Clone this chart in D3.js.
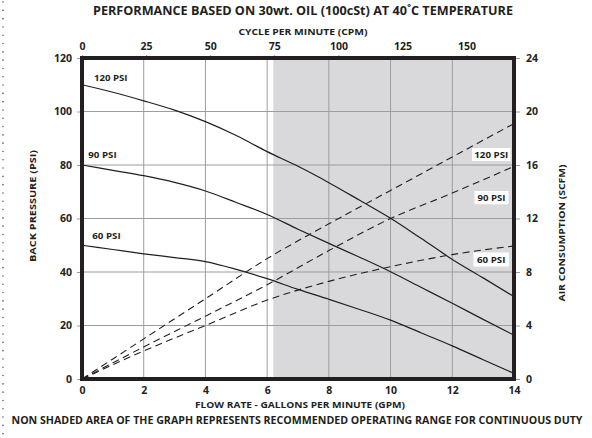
<!DOCTYPE html>
<html><head><meta charset="utf-8">
<script src="https://cdn.jsdelivr.net/npm/d3@7"></script>
<style>
html,body{margin:0;padding:0;background:#fff;}
svg{display:block;}
text{font-family:"Open Sans","DejaVu Sans",sans-serif;font-weight:700;fill:#231f20;}
</style></head>
<body>
<script>
// ---------- data ----------
const gpm = [0,1,2,3,4,5,6,7,8,9,10,11,12,13,14];
const psi120 = [110,107.2,104,100.5,96.2,91,85,79.5,73.4,66.8,60.1,52.5,44.7,37.8,30.8];
const psi90  = [80,78,76,73.5,70.3,66,61.5,56,50.7,45.5,40.1,34.2,28.3,22.3,16.4];
const psi60  = [50,48.4,46.8,45.4,43.9,41,37.5,33.5,29.8,26,22,17.2,12.4,7.2,2.1];
const gpmAir = [0,2,4,6,8,10,12,14];
const scfm120 = [0,3.0,6.0,9.0,11.6,14.1,16.6,19.1];
const scfm90  = [0,2.4,4.7,7.05,9.6,12.0,13.9,15.9];
const scfm60  = [0,2.1,4.0,5.9,7.3,8.4,9.3,9.95];
const seriesNames = ["120 PSI","90 PSI","60 PSI"];
const xTicks = [0,2,4,6,8,10,12,14];
const yTicks = [0,20,40,60,80,100,120];
const y2Ticks = [0,4,8,12,16,20,24];
const cpmTicks = [0,25,50,75,100,125,150];
const shadeStartCpm = 75;
const title = "PERFORMANCE BASED ON 30wt. OIL (100cSt) AT 40˚C TEMPERATURE";
const topTitle = "CYCLE PER MINUTE (CPM)";
const xTitle = "FLOW RATE - GALLONS PER MINUTE (GPM)";
const yTitle = "BACK PRESSURE  (PSI)";
const y2Title = "AIR CONSUMPTION (SCFM)";
const footer = "NON SHADED AREA OF THE GRAPH REPRESENTS RECOMMENDED OPERATING RANGE FOR CONTINUOUS DUTY";

// ---------- layout ----------
const W = 592, H = 438;
const L = 82, R = 514, T = 58, B = 379;
const svg = d3.select("body").append("svg").attr("width", W).attr("height", H);

const x = d3.scaleLinear().domain([0,14]).range([L,R]);
const xTop = d3.scaleLinear().domain([0,168.5]).range([L,R]);
const y = d3.scaleLinear().domain([0,120]).range([B,T]);
const y2 = d3.scaleLinear().domain([0,24]).range([B,T]);

// left dotted border
svg.append("line").attr("x1",3).attr("x2",3).attr("y1",2).attr("y2",H)
  .attr("stroke","#555").attr("stroke-width",1.5).attr("stroke-linecap","round")
  .attr("stroke-dasharray","0.1 8.2");

// shaded region
svg.append("rect").attr("x", xTop(shadeStartCpm)-1).attr("y", T)
  .attr("width", R - xTop(shadeStartCpm)+1).attr("height", B - T).attr("fill","#d9d8da");

// gridlines
const grid = svg.append("g").attr("stroke","#9d9d9d").attr("stroke-width",1);
xTicks.slice(1,-1).forEach(v => grid.append("line").attr("x1",x(v)).attr("x2",x(v)).attr("y1",T).attr("y2",B));
yTicks.slice(1,-1).forEach(v => grid.append("line").attr("x1",L).attr("x2",R).attr("y1",y(v)).attr("y2",y(v)));

// axes (ticks + labels)
const axB = svg.append("g").attr("transform",`translate(0,${B})`)
  .call(d3.axisBottom(x).tickValues(xTicks).tickSize(0).tickPadding(8));
const axL = svg.append("g").attr("transform",`translate(${L},0)`)
  .call(d3.axisLeft(y).tickValues(yTicks).tickSize(5).tickPadding(5));
const axR = svg.append("g").attr("transform",`translate(${R},0)`)
  .call(d3.axisRight(y2).tickValues(y2Ticks).tickSize(6).tickPadding(6));
const axT = svg.append("g").attr("transform",`translate(0,${T})`)
  .call(d3.axisTop(xTop).tickValues(cpmTicks).tickSize(3).tickPadding(5));
[axB,axL,axR,axT].forEach(a=>{
  a.select(".domain").remove();
  a.selectAll(".tick line").attr("stroke","#9d9d9d");
  a.selectAll("text").attr("font-size",10.5).attr("font-family",'"Open Sans",sans-serif')
   .attr("font-weight",700).attr("fill","#231f20");
});

// curves
const solid = d3.line().x((d,i)=>x(gpm[i])).y(d=>y(d)).curve(d3.curveMonotoneX);
const dashed = d3.line().x((d,i)=>x(gpmAir[i])).y(d=>y2(d)).curve(d3.curveMonotoneX);
[psi120,psi90,psi60].forEach(s=>svg.append("path").attr("d",solid(s))
  .attr("fill","none").attr("stroke","#231f20").attr("stroke-width",1.2));
[scfm120,scfm90,scfm60].forEach(s=>svg.append("path").attr("d",dashed(s))
  .attr("fill","none").attr("stroke","#231f20").attr("stroke-width",1.1)
  .attr("stroke-dasharray","7,4.5"));

// left labels
const leftLbl = [[94,81,33.5],[88.3,158,28.4],[92.3,239,28.4]];
seriesNames.forEach((n,i)=>svg.append("text").attr("x",leftLbl[i][0]).attr("y",leftLbl[i][1])
  .attr("font-size",9).attr("textLength",leftLbl[i][2]).attr("lengthAdjust","spacingAndGlyphs").text(n));
// right labels with white boxes
const rightBox = [[472,148,38.5,13,34],[474.5,191,34,13.3,28],[473.5,252.5,35.5,14,28.5]];
seriesNames.forEach((n,i)=>{
  const b = rightBox[i];
  svg.append("rect").attr("x",b[0]).attr("y",b[1]).attr("width",b[2]).attr("height",b[3]).attr("fill","#fff");
  svg.append("text").attr("x",b[0]+b[2]/2).attr("y",b[1]+b[3]/2+3.3).attr("text-anchor","middle")
    .attr("font-size",9).attr("textLength",b[4]).attr("lengthAdjust","spacingAndGlyphs").text(n);
});

// plot border
svg.append("rect").attr("x",L).attr("y",T).attr("width",R-L).attr("height",B-T)
  .attr("fill","none").attr("stroke","#231f20").attr("stroke-width",4);

// titles
svg.append("text").attr("x",303).attr("y",15).attr("text-anchor","middle").attr("font-size",11.5)
  .attr("textLength",420).attr("lengthAdjust","spacingAndGlyphs").text(title);
svg.append("text").attr("x",303).attr("y",34.5).attr("text-anchor","middle").attr("font-size",9.5)
  .attr("textLength",129).attr("lengthAdjust","spacingAndGlyphs").text(topTitle);
svg.append("text").attr("x",300).attr("y",408).attr("text-anchor","middle").attr("font-size",9.5)
  .attr("textLength",210).attr("lengthAdjust","spacingAndGlyphs").text(xTitle);
svg.append("text").attr("transform","translate(36,206) rotate(-90)").attr("text-anchor","middle")
  .attr("font-size",9.5).attr("textLength",112).attr("lengthAdjust","spacingAndGlyphs").text(yTitle);
svg.append("text").attr("transform","translate(565,233) rotate(-90)").attr("text-anchor","middle")
  .attr("font-size",9.5).attr("textLength",137).attr("lengthAdjust","spacingAndGlyphs").text(y2Title);
svg.append("text").attr("x",297).attr("y",424).attr("text-anchor","middle").attr("font-size",10.5)
  .attr("font-family",'"Liberation Sans Narrow","Liberation Sans",sans-serif')
  .attr("textLength",571).attr("lengthAdjust","spacingAndGlyphs").text(footer);
</script>
</body></html>
